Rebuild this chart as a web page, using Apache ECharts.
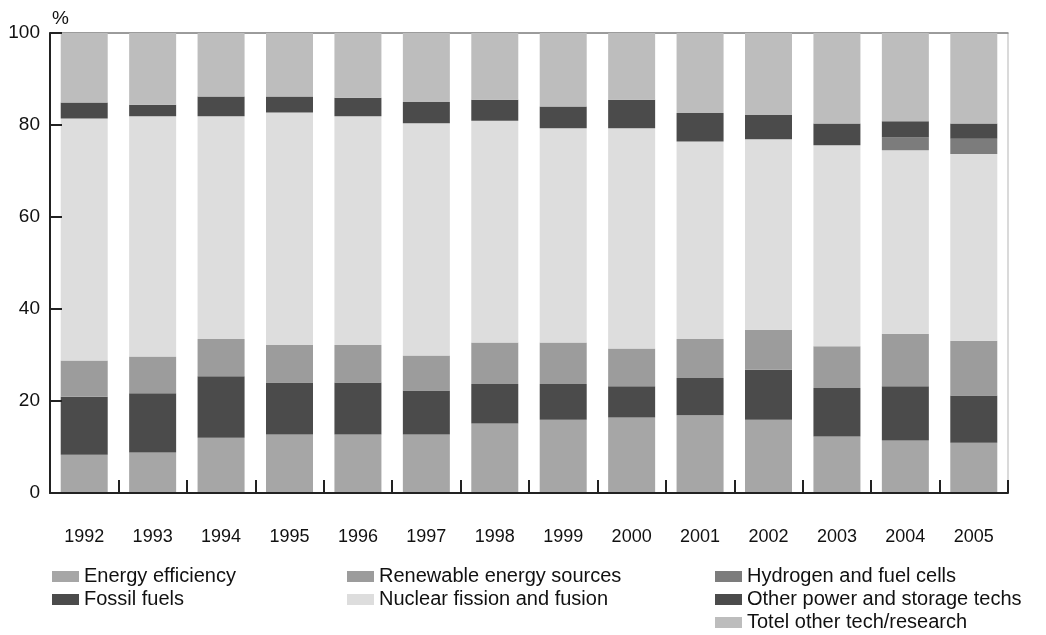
<!DOCTYPE html>
<html>
<head>
<meta charset="utf-8">
<title>stacked bar</title>
<script src="https://cdn.jsdelivr.net/npm/echarts@6/dist/echarts.min.js"></script>
<style>
  html, body { margin: 0; padding: 0; background: #fff; }
  #main { width: 1046px; height: 635px; }
</style>
</head>
<body>
<div id="main"></div>
<script>
  // years on the x axis
  var years = ['1992', '1993', '1994', '1995', '1996', '1997', '1998', '1999', '2000', '2001', '2002', '2003', '2004', '2005']
  var yTicks = [0, 20, 40, 60, 80, 100]

  // share of each field, % (bottom to top)
  var energyEfficiency = [8.3, 8.8, 12.0, 12.7, 12.7, 12.7, 15.1, 15.9, 16.4, 16.9, 15.9, 12.3, 11.4, 10.9]
  var fossilFuels = [12.6, 12.9, 13.4, 11.3, 11.3, 9.6, 8.6, 7.8, 6.8, 8.1, 10.9, 10.5, 11.8, 10.3]
  var renewable = [7.9, 8.0, 8.1, 8.2, 8.2, 7.6, 9.0, 9.0, 8.2, 8.5, 8.7, 9.1, 11.4, 11.9]
  var nuclear = [52.6, 52.2, 48.4, 50.5, 49.7, 50.5, 48.2, 46.6, 47.9, 42.9, 41.4, 43.7, 39.9, 40.6]
  var hydrogen = [0, 0, 0, 0, 0, 0, 0, 0, 0, 0, 0, 0, 2.8, 3.3]
  var otherPower = [3.5, 2.5, 4.3, 3.5, 4.0, 4.6, 4.6, 4.7, 6.2, 6.2, 5.3, 4.7, 3.5, 3.3]
  var otherTech = [15.1, 15.6, 13.8, 13.8, 14.1, 15.0, 14.5, 16.0, 14.5, 17.4, 17.8, 19.7, 19.2, 19.7]

  var names = ['Energy efficiency', 'Fossil fuels', 'Renewable energy sources', 'Nuclear fission and fusion',
    'Hydrogen and fuel cells', 'Other power and storage techs', 'Totel other tech/research']
  var colors = ['#a6a6a6', '#4b4b4b', '#9c9c9c', '#dddddd', '#7c7c7c', '#4b4b4b', '#bdbdbd']
  var values = [energyEfficiency, fossilFuels, renewable, nuclear, hydrogen, otherPower, otherTech]

  var font = 'Liberation Sans, Arial, sans-serif'

  function legendBlock(left, items) {
    return {
      orient: 'vertical',
      left: left,
      top: 565,
      itemWidth: 27,
      itemHeight: 11,
      itemGap: 0,
      padding: 0,
      icon: 'rect',
      data: items,
      textStyle: {
        color: '#111',
        fontFamily: font,
        fontSize: 20,
        lineHeight: 23
      }
    }
  }

  var chart = echarts.init(document.getElementById('main'))
  var option = {
    animation: false,
    color: colors,
    grid: {
      left: 50,
      right: 38,
      top: 33,
      bottom: 142,
      show: true,
      borderColor: '#b5b5b5',
      borderWidth: 1
    },
    legend: [
      legendBlock(52, names.slice(0, 2)),
      legendBlock(347, names.slice(2, 4)),
      legendBlock(715, names.slice(4, 7))
    ],
    xAxis: [{
      type: 'category',
      data: years,
      z: 10,
      axisLine: { show: true, lineStyle: { color: '#222', width: 2 } },
      axisTick: { show: true, inside: true, length: 13, lineStyle: { color: '#222', width: 2 } },
      axisLabel: { color: '#111', fontFamily: font, fontSize: 18, margin: 35 }
    }, {
      // top edge of the plot, a plain grey line
      type: 'category',
      position: 'top',
      data: years,
      axisLine: { show: true, lineStyle: { color: '#888', width: 1.5 } },
      axisTick: { show: false },
      axisLabel: { show: false }
    }],
    yAxis: {
      type: 'value',
      min: yTicks[0],
      max: yTicks[yTicks.length - 1],
      interval: 20,
      z: 10,
      name: '%',
      nameGap: 5,
      nameTextStyle: { color: '#111', fontFamily: font, fontSize: 19, align: 'left', padding: [0, 0, 0, 2] },
      splitLine: { show: false },
      axisLine: { show: true, lineStyle: { color: '#222', width: 2 } },
      axisTick: { show: true, inside: true, length: 12, lineStyle: { color: '#222', width: 2 } },
      axisLabel: { color: '#111', fontFamily: font, fontSize: 19, margin: 10 }
    },
    series: names.map(function (name, i) {
      return {
        name: name,
        type: 'bar',
        stack: 'total',
        barWidth: 47,
        itemStyle: { color: colors[i] },
        data: values[i]
      }
    })
  }
  chart.setOption(option)
</script>
</body>
</html>
